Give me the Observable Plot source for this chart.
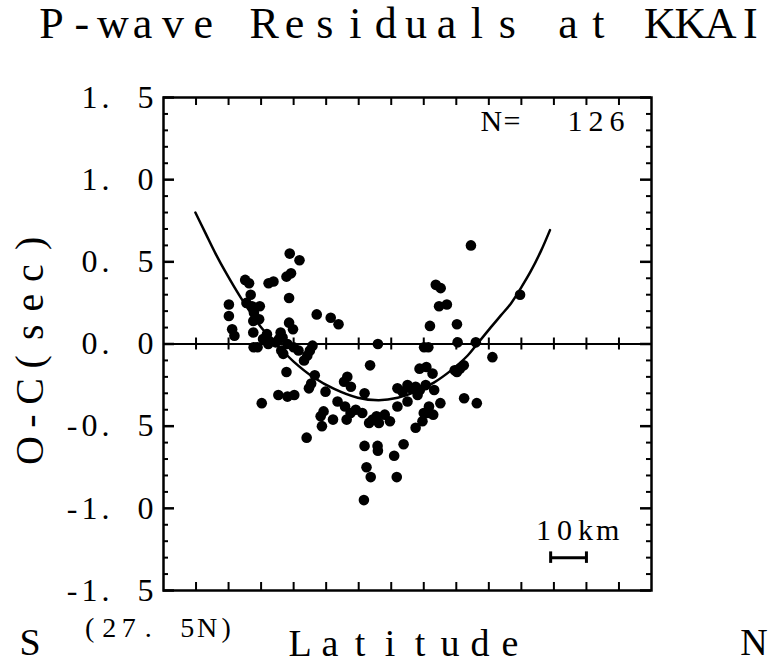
<!DOCTYPE html>
<html>
<head>
<meta charset="utf-8">
<script src="https://cdn.jsdelivr.net/npm/d3@7"></script>
<script src="https://cdn.jsdelivr.net/npm/@observablehq/plot@0.6"></script>
<style>
  body { margin: 0; background: white; }
  #wrap { position: relative; width: 769px; height: 664px; background: white; font-family: "Liberation Serif", "DejaVu Serif", serif; color: #000; overflow: hidden; }
  #wrap svg text { letter-spacing: 4px; white-space: pre; }
  .lbl { position: absolute; line-height: 1; white-space: pre; }
  .lbl span { display: inline-block; text-align: center; }
</style>
</head>
<body>
<div id="wrap"></div>
<script>
// Station residual data (latitude position in tick units, O-C residual in seconds)
const latitude = [3.88,4.18,2.51,2.63,3.23,3.38,3.78,3.92,2.68,3.86,2.01,2.55,2.72,2.96,2.01,2.78,2.94,4.71,5.14,5.38,
  2.11,2.18,2.76,2.76,3.18,3.24,3.86,3.98,3.60,3.55,2.77,2.89,3.22,3.62,3.68,4.00,4.58,4.50,4.42,4.32,
  3.78,4.65,4.54,4.47,4.98,5.65,5.55,5.76,6.18,3.53,3.81,4.02,3.02,5.35,5.58,5.91,6.11,4.92,4.83,5.21,
  5.63,4.87,6.32,6.55,6.62,6.80,6.96,4.40,6.18,6.58,6.59,7.38,7.09,6.24,6.37,7.17,6.16,6.59,6.35,7.19,
  7.50,7.75,8.06,8.32,7.81,7.19,7.50,8.16,8.51,9.24,9.63,8.00,8.12,8.29,7.96,7.75,8.01,8.14,9.04,9.60,
  10.11,7.87,8.08,8.27,8.95,9.11,9.23,9.45,8.37,8.52,8.47,8.71,10.96,8.19,9.02,3.45,3.81,3.06,7.35,7.88,
  6.43,5.75,7.60,4.15,3.66,9.02];
const residual = [0.55,0.51,0.39,0.37,0.37,0.38,0.41,0.43,0.30,0.28,0.24,0.25,0.23,0.23,0.17,0.19,0.15,0.18,0.16,0.12,
  0.09,0.05,0.14,0.07,0.06,0.02,0.13,0.09,0.07,0.03,-0.02,-0.02,0.00,-0.04,-0.06,-0.02,-0.01,-0.04,-0.07,-0.10,
  -0.17,-0.19,-0.24,-0.27,-0.29,-0.20,-0.23,-0.26,-0.30,-0.31,-0.32,-0.31,-0.36,-0.35,-0.38,-0.40,-0.42,-0.41,-0.44,-0.46,
  -0.46,-0.50,-0.48,-0.44,-0.48,-0.43,-0.47,-0.57,-0.62,-0.62,-0.65,-0.61,-0.68,-0.75,-0.81,-0.81,-0.95,0.00,-0.13,-0.27,
  -0.25,-0.26,-0.25,-0.28,-0.31,-0.38,-0.35,-0.38,-0.36,-0.33,-0.36,-0.42,-0.42,-0.43,-0.47,-0.51,-0.02,-0.02,0.01,0.01,
  -0.08,-0.15,-0.14,-0.18,-0.16,-0.15,-0.13,0.60,0.36,0.34,0.23,0.24,0.30,0.11,0.12,0.01,0.00,0.03,-0.29,-0.28,
  -0.46,-0.42,-0.27,-0.04,0.04,-0.17];

// Fitted curve
const fitLatitude = [0.98,1.29,1.60,1.91,2.37,2.98,3.51,4.00,4.62,5.23,5.97,6.62,7.20,7.75,8.31,8.83,9.35,9.63,10.06,10.37,10.68,10.98,11.29,11.60,11.88];
const fitResidual = [0.80,0.675,0.55,0.437,0.284,0.107,-0.009,-0.107,-0.204,-0.272,-0.327,-0.342,-0.327,-0.290,-0.235,-0.162,-0.070,-0.003,0.101,0.174,0.247,0.339,0.443,0.565,0.693];

// Axis ticks and labels
const yTickValues = [1.5, 1.0, 0.5, 0.0, -0.5, -1.0, -1.5];
const yTickLabels = ["1.  5", "1.  0", "0.  5", "0.  0", "-0.  5", "-1.  0", "-1.  5"];
const yMinorTicks = [-1.4,-1.3,-1.2,-1.1,-0.9,-0.8,-0.7,-0.6,-0.4,-0.3,-0.2,-0.1,0.1,0.2,0.3,0.4,0.6,0.7,0.8,0.9,1.1,1.2,1.3,1.4];
const xTicks = [1,2,3,4,5,6,7,8,9,10,11,12,13,14];

const points = latitude.map((x, i) => ({x, y: residual[i]}));
const fit = fitLatitude.map((x, i) => ({x, y: fitResidual[i]}));

const W = 769, H = 664, ML = 163, MR = 118, MT = 97, MB = 74;
const IW = W - ML - MR, IH = H - MT - MB;
const zeroFromTop = IH / 2;

const chart = Plot.plot({
  width: W, height: H,
  marginLeft: ML, marginRight: MR, marginTop: MT, marginBottom: MB,
  x: {domain: [0, 15], axis: null},
  y: {domain: [-1.5, 1.5], axis: null},
  style: {fontFamily: "Liberation Serif, DejaVu Serif, serif", background: "white", color: "black", overflow: "visible"},
  marks: [
    Plot.ruleY([0], {stroke: "black", strokeWidth: 2}),
    // inward ticks: left & right
    Plot.tickY(yMinorTicks, {y: d => d, insetRight: IW - 5, strokeWidth: 2}),
    Plot.tickY(yTickValues, {y: d => d, insetRight: IW - 11, strokeWidth: 2.5}),
    Plot.tickY(yMinorTicks, {y: d => d, insetLeft: IW - 5, strokeWidth: 2}),
    Plot.tickY(yTickValues, {y: d => d, insetLeft: IW - 11, strokeWidth: 2.5}),
    // inward ticks: top & bottom & zero line
    Plot.tickX(xTicks, {x: d => d, insetBottom: IH - 8, strokeWidth: 2}),
    Plot.tickX(xTicks, {x: d => d, insetTop: IH - 8, strokeWidth: 2}),
    Plot.tickX(xTicks, {x: d => d, insetTop: zeroFromTop - 6, insetBottom: IH - zeroFromTop - 6, strokeWidth: 2}),
    Plot.axisY(yTickValues, {
      tickSize: 0, tickPadding: 6, fontSize: 32, label: null,
      tickFormat: d => yTickLabels[yTickValues.indexOf(d)]
    }),
    Plot.line(fit, {x: "x", y: "y", curve: "catmull-rom", stroke: "black", strokeWidth: 2.5}),
    Plot.dot(points, {x: "x", y: "y", r: 5.3, fill: "black", stroke: "none"}),
    // 10 km scale bar
    Plot.ruleY([-1.3], {x1: 11.9, x2: 13.0, stroke: "black", strokeWidth: 3}),
    Plot.ruleX([11.9, 13.0], {y1: -1.335, y2: -1.265, stroke: "black", strokeWidth: 3}),
    Plot.frame({stroke: "black", strokeWidth: 2.5})
  ]
});

const wrap = document.getElementById("wrap");
wrap.appendChild(chart);

function label(str, {cx, cy, fs, cell, rotate = 0}) {
  const d = document.createElement("div");
  d.className = "lbl";
  d.style.fontSize = fs + "px";
  const w = str.length * cell;
  d.style.width = w + "px";
  d.style.height = fs + "px";
  d.style.left = (cx - w / 2) + "px";
  d.style.top = (cy - fs / 2) + "px";
  if (rotate) d.style.transform = `rotate(${rotate}deg)`;
  for (const ch of str) {
    const s = document.createElement("span");
    s.style.width = cell + "px";
    s.textContent = ch === " " ? "\u00a0" : ch;
    d.appendChild(s);
  }
  wrap.appendChild(d);
}

label("P-wave Residuals at KKAI", {cx: 401, cy: 24, fs: 44, cell: 30.4});
label("O-C(sec)", {cx: 30, cy: 347, fs: 40, cell: 29.6, rotate: -90});
label("N=  126", {cx: 554, cy: 121, fs: 30, cell: 21});
label("10km", {cx: 575, cy: 530, fs: 30, cell: 21});
label("S", {cx: 30, cy: 642, fs: 38, cell: 30});
label("(27. 5N)", {cx: 158, cy: 628, fs: 28, cell: 19.5});
label("Latitude", {cx: 405, cy: 643, fs: 38, cell: 30});
label("N", {cx: 754, cy: 642, fs: 38, cell: 30});
</script>
</body>
</html>
